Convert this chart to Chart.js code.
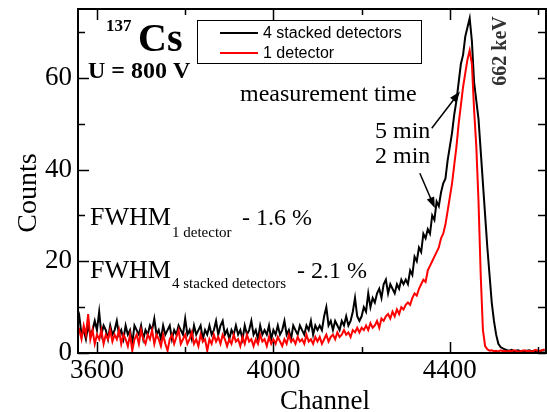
<!DOCTYPE html>
<html>
<head>
<meta charset="utf-8">
<script src="https://cdn.jsdelivr.net/npm/chart.js@4.4.0/dist/chart.umd.min.js"></script>
<style>
  html, body { margin: 0; padding: 0; background: #fff; }
  canvas { display: block; }
</style>
</head>
<body>
<canvas id="spectrum" width="547" height="412"></canvas>
<script>
// 137Cs spectrum, 4 stacked detectors vs 1 detector

const SERIF = '"Liberation Serif", "Times New Roman", serif';
const SANS = '"Liberation Sans", Arial, sans-serif';

// channel grid of the spectra (first channel, step)
const CH_START = 3555;
const CH_STEP = 5;

// 4 stacked detectors, 5 min (channels 3555 .. 4615)
const countsStacked = [
  6, 8, 4, 5, 3, 6, 4, 5, 7, 5,
  9, 4, 6, 5, 3, 6, 4, 5, 7, 4,
  5, 3, 6, 4, 5, 2, 6, 5, 4, 6,
  3, 5, 4, 6, 5, 7.5, 4, 5, 3, 6,
  4, 5, 6, 3, 5, 4, 6, 5, 4, 7.5,
  4, 5, 3, 6, 4, 5, 6, 3, 5, 4,
  6, 4, 5, 7, 4, 6, 7, 4, 5, 3,
  5, 4, 6, 4, 5, 3, 6, 4, 5, 7,
  4, 5, 3, 6, 4, 5, 4, 6, 3, 5,
  4, 6, 4, 5, 7, 4, 5, 3, 6, 5,
  4, 6, 5, 4, 6, 5, 7, 4, 6,
  5, 6, 5, 8, 10, 6, 7, 5, 7, 6,
  5, 7, 6, 8, 6, 7, 9, 12, 8, 7,
  8, 10, 9, 13, 10, 12, 11, 13, 14, 12,
  15, 16, 13, 15, 14, 13, 15, 14, 16, 15,
  16, 15, 18, 17, 21, 20, 23, 22, 26, 25,
  27, 26, 30, 29, 33, 32, 35, 37, 38, 42,
  45, 48, 52, 55, 59, 63, 65, 69, 71, 73,
  68, 59, 55, 51, 44, 37, 30, 23, 17, 11,
  7, 4, 2, 1.3, 1, 0.8, 0.6, 0.5, 0.7, 0.4,
  0.5, 0.6, 0.4, 0.5, 0.3, 0.5, 0.6, 0.4, 0.5, 0.3,
  0.5, 0.4, 0.6, 0.5
];

// 1 detector, 2 min (channels 3555 .. 4615)
const countsSingle = [
  4, 5, 3, 6, 4, 8.5, 3, 5, 2, 4,
  3, 5, 2, 4, 3, 5, 2.5, 4, 3, 5,
  2, 4, 3, 1.5, 4, 0.5, 3, 4, 2, 5,
  3, 2, 4, 3, 5, 2, 4, 3, 1.5, 4,
  2, 0.5, 3, 4, 2, 3.5, 5, 2, 3, 4,
  2, 3, 4.5, 2, 3, 1.5, 4, 2.5, 3, 0.5,
  3, 2, 4, 2.5, 3.5, 2, 4, 3, 1.5, 3,
  2, 4, 2.5, 3, 1.5, 3.5, 2, 4, 2.5, 3,
  1.5, 3, 2, 4, 2.5, 3, 1.5, 3.5, 2, 3,
  2, 3.5, 2.5, 1.5, 3, 2, 4, 2.5, 3, 2,
  3.5, 2.5, 3, 2, 4, 2.5, 3, 2, 3.5,
  2.5, 3.5, 2, 3, 4, 2.5, 3.5, 4, 3, 4.5,
  3.5, 4, 5, 4, 4.5, 3.5, 5, 4.5, 5.5, 4.5,
  5.5, 5, 6, 5, 6.5, 5.5, 6, 7, 5.5, 7.5,
  7, 8, 8.5, 7.5, 9, 8, 9.5, 8.5, 10, 9.5,
  10.5, 11, 10.5, 12, 13, 12.5, 14, 15, 16, 15.5,
  18, 19, 20, 21, 22, 23, 25, 26, 28, 31,
  34, 37, 41, 45, 50, 54, 58, 61, 64, 66,
  63, 53, 45, 33, 17, 5, 1.5, 0.8, 0.5, 0.6,
  0.4, 0.5, 0.3, 0.6, 0.4, 0.5, 0.3, 0.5, 0.4, 0.6,
  0.5, 0.3, 0.4, 0.5, 0.6, 0.4, 0.5, 0.3, 0.5, 0.7,
  0.4, 0.5, 0.6, 0.8
];

const seriesLabels = ['4 stacked detectors', '1 detector'];
const seriesColors = ['#000000', '#ff0000'];
const xLabeledTicks = [3600, 4000, 4400];
const yLabeledTicks = [0, 20, 40, 60];

// arrows "measurement time" -> curves, in data coordinates
const arrow5min = { from: [4359, 49], to: [4423, 57] };
const arrow2min = { from: [4332, 39.2], to: [4366, 31.6] };

function toPoints(values) {
  return values.map((v, i) => ({ x: CH_START + i * CH_STEP, y: v }));
}

function drawArrow(ctx, x1, y1, x2, y2) {
  const ang = Math.atan2(y2 - y1, x2 - x1);
  const head = 11, half = 4;
  ctx.beginPath();
  ctx.moveTo(x1, y1);
  ctx.lineTo(x2 - Math.cos(ang) * head * 0.8, y2 - Math.sin(ang) * head * 0.8);
  ctx.stroke();
  ctx.beginPath();
  ctx.moveTo(x2, y2);
  ctx.lineTo(x2 - Math.cos(ang) * head - Math.sin(ang) * half, y2 - Math.sin(ang) * head + Math.cos(ang) * half);
  ctx.lineTo(x2 - Math.cos(ang) * head + Math.sin(ang) * half, y2 - Math.sin(ang) * head - Math.cos(ang) * half);
  ctx.closePath();
  ctx.fill();
}

const framePlugin = {
  id: 'frameAndNotes',
  afterDraw(chart) {
    const { ctx, chartArea: a, scales: { x, y } } = chart;
    ctx.save();
    ctx.strokeStyle = '#000';
    ctx.fillStyle = '#000';

    // frame
    ctx.lineWidth = 2;
    ctx.strokeRect(a.left, a.top, a.right - a.left, a.bottom - a.top);

    // inward ticks on all four sides
    ctx.lineWidth = 1.5;
    ctx.beginPath();
    for (const t of x.ticks) {
      const px = Math.round(x.getPixelForValue(t.value)) + 0.5;
      const len = xLabeledTicks.includes(t.value) ? 11 : 6;
      ctx.moveTo(px, a.bottom); ctx.lineTo(px, a.bottom - len);
      ctx.moveTo(px, a.top); ctx.lineTo(px, a.top + len);
    }
    for (const t of y.ticks) {
      const py = Math.round(y.getPixelForValue(t.value)) + 0.5;
      const len = yLabeledTicks.includes(t.value) ? 11 : 7;
      ctx.moveTo(a.left, py); ctx.lineTo(a.left + len, py);
      ctx.moveTo(a.right, py); ctx.lineTo(a.right - 8, py);
    }
    ctx.stroke();

    // legend box
    ctx.fillStyle = '#fff';
    ctx.fillRect(197, 20, 224, 43);
    ctx.lineWidth = 1;
    ctx.strokeRect(197.5, 20.5, 224, 43);
    chart.data.datasets.forEach((ds, i) => {
      const ly = 33 + i * 20;
      ctx.strokeStyle = ds.borderColor;
      ctx.lineWidth = 2;
      ctx.beginPath(); ctx.moveTo(220, ly); ctx.lineTo(258, ly); ctx.stroke();
      ctx.fillStyle = '#000';
      ctx.font = '16px ' + SANS;
      ctx.textBaseline = 'middle';
      ctx.textAlign = 'left';
      ctx.fillText(ds.label, 263, ly + 1);
    });

    // isotope and voltage
    ctx.fillStyle = '#000';
    ctx.textBaseline = 'alphabetic';
    ctx.font = 'bold 17px ' + SERIF;
    ctx.fillText('137', 106, 31);
    ctx.font = 'bold 40px ' + SERIF;
    ctx.fillText('Cs', 138, 51);
    ctx.font = 'bold 24px ' + SERIF;
    ctx.fillText('U = 800 V', 88, 78);

    // photopeak label
    ctx.save();
    ctx.translate(501, 51);
    ctx.rotate(-Math.PI / 2);
    ctx.font = 'bold 20px ' + SERIF;
    ctx.fillStyle = '#333';
    ctx.textAlign = 'center';
    ctx.textBaseline = 'middle';
    ctx.fillText('662 keV', 0, 0);
    ctx.restore();

    // measurement time
    ctx.font = '24px ' + SERIF;
    ctx.fillText('measurement time', 240, 101);
    ctx.fillText('5 min', 375, 138);
    ctx.fillText('2 min', 375, 163);

    ctx.strokeStyle = '#000';
    ctx.fillStyle = '#000';
    ctx.lineWidth = 1.5;
    for (const ar of [arrow5min, arrow2min]) {
      drawArrow(ctx,
        x.getPixelForValue(ar.from[0]), y.getPixelForValue(ar.from[1]),
        x.getPixelForValue(ar.to[0]), y.getPixelForValue(ar.to[1]));
    }

    // FWHM notes
    ctx.font = '26px ' + SERIF;
    ctx.fillText('FWHM', 90, 225);
    ctx.font = '15px ' + SERIF;
    ctx.fillText('1 detector', 172, 237);
    ctx.font = '24px ' + SERIF;
    ctx.fillText('- 1.6 %', 242, 225);

    ctx.font = '26px ' + SERIF;
    ctx.fillText('FWHM', 90, 278);
    ctx.font = '15px ' + SERIF;
    ctx.fillText('4 stacked detectors', 172, 288);
    ctx.font = '24px ' + SERIF;
    ctx.fillText('- 2.1 %', 297, 278);

    // axis titles
    ctx.font = '27px ' + SERIF;
    ctx.textAlign = 'center';
    ctx.fillText('Channel', 325, 409);
    ctx.save();
    ctx.translate(36, 193);
    ctx.rotate(-Math.PI / 2);
    ctx.font = '28px ' + SERIF;
    ctx.textAlign = 'center';
    ctx.textBaseline = 'alphabetic';
    ctx.fillText('Counts', 0, 0);
    ctx.restore();

    ctx.restore();
  }
};

new Chart(document.getElementById('spectrum'), {
  type: 'line',
  data: {
    datasets: [
      {
        label: seriesLabels[0],
        data: toPoints(countsStacked),
        borderColor: seriesColors[0],
        borderWidth: 2,
        pointRadius: 0,
        tension: 0,
        order: 1
      },
      {
        label: seriesLabels[1],
        data: toPoints(countsSingle),
        borderColor: seriesColors[1],
        borderWidth: 2,
        pointRadius: 0,
        tension: 0,
        order: 0
      }
    ]
  },
  options: {
    responsive: false,
    animation: false,
    devicePixelRatio: 1,
    layout: { padding: { top: 9, right: 1, left: 0, bottom: 0 } },
    plugins: { legend: { display: false }, tooltip: { enabled: false } },
    scales: {
      x: {
        type: 'linear',
        min: 3557,
        max: 4618,
        grid: { display: false, drawTicks: false },
        border: { display: false },
        ticks: {
          stepSize: 200,
          includeBounds: false,
          autoSkip: false,
          maxRotation: 0,
          padding: 2,
          color: '#000',
          font: { family: SERIF, size: 27 },
          callback: v => xLabeledTicks.includes(v) ? String(v) : ''
        },
        afterFit: s => {
          s.height = 59;
          s.paddingLeft = 0;
          s.paddingRight = 0;
        }
      },
      y: {
        min: 0,
        max: 75,
        grid: { display: false, drawTicks: false },
        border: { display: false },
        ticks: {
          stepSize: 10,
          includeBounds: false,
          padding: 6,
          color: '#000',
          font: { family: SERIF, size: 27 },
          callback: v => yLabeledTicks.includes(v) ? String(v) : ''
        },
        afterFit: s => {
          s.width = 78;
          s.paddingTop = 0;
          s.paddingBottom = 0;
        }
      }
    }
  },
  plugins: [framePlugin]
});
</script>
</body>
</html>
